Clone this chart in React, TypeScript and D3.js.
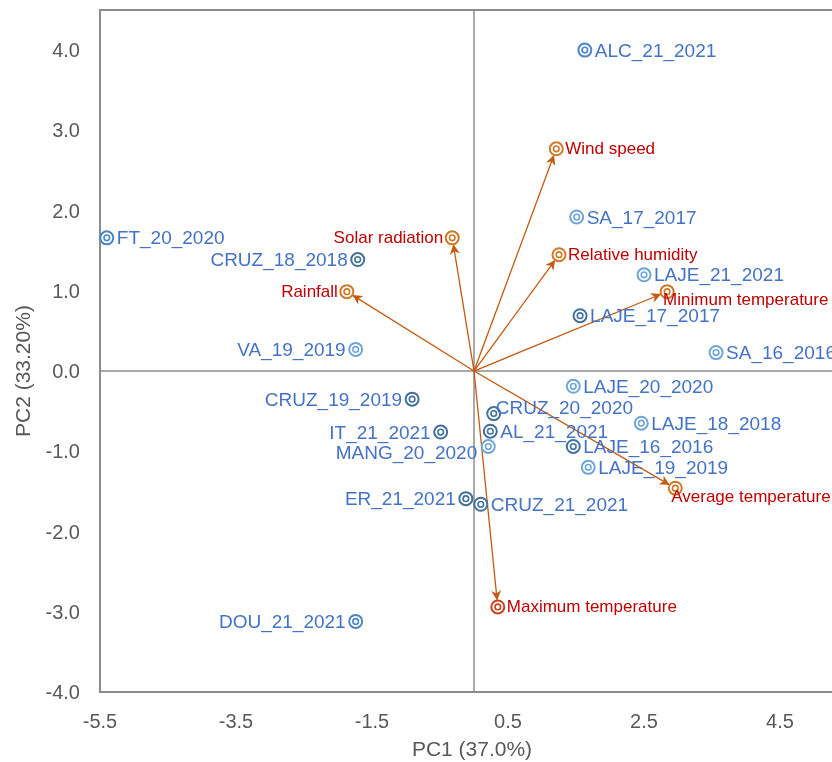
import * as d3 from "d3";

// PCA biplot: sample scores (blue) and environmental loadings (orange arrows)
const sampleNames = [
  "ALC_21_2021", "FT_20_2020", "CRUZ_18_2018", "VA_19_2019", "SA_17_2017",
  "LAJE_21_2021", "LAJE_17_2017", "SA_16_2016", "LAJE_20_2020", "CRUZ_20_2020",
  "LAJE_18_2018", "AL_21_2021", "LAJE_16_2016", "LAJE_19_2019", "CRUZ_19_2019",
  "IT_21_2021", "MANG_20_2020", "ER_21_2021", "CRUZ_21_2021", "DOU_21_2021",
];
const samplePC1 = [
  1.63, -5.40, -1.71, -1.74, 1.51, 2.50, 1.56, 3.56, 1.46, 0.29,
  2.46, 0.24, 1.46, 1.68, -0.91, -0.49, 0.21, -0.12, 0.10, -1.74,
];
const samplePC2 = [
  4.00, 1.66, 1.39, 0.27, 1.92, 1.20, 0.69, 0.23, -0.19, -0.53,
  -0.65, -0.75, -0.94, -1.20, -0.35, -0.76, -0.94, -1.59, -1.66, -3.12,
];

const variableNames = [
  "Wind speed", "Solar radiation", "Relative humidity", "Rainfall",
  "Minimum temperature", "Average temperature", "Maximum temperature",
];
const variablePC1 = [1.21, -0.32, 1.25, -1.87, 2.84, 2.96, 0.35];
const variablePC2 = [2.77, 1.66, 1.45, 0.99, 0.99, -1.46, -2.94];

const xTicks = [-5.5, -3.5, -1.5, 0.5, 2.5, 4.5];
const yTicks = [4, 3, 2, 1, 0, -1, -2, -3, -4];

// label placement and marker shade (styling, kept apart from the values)
type Place = "right" | "left" | "upRight" | "downLeft" | "downRight";
const samplePlace: Record<string, Place> = {
  CRUZ_18_2018: "left", VA_19_2019: "left", CRUZ_19_2019: "left",
  IT_21_2021: "left", ER_21_2021: "left", DOU_21_2021: "left",
  MANG_20_2020: "downLeft", CRUZ_20_2020: "upRight",
};
const variablePlace: Record<string, Place> = {
  "Solar radiation": "left", Rainfall: "left",
  "Minimum temperature": "downRight", "Average temperature": "downRight",
};
const dark = "#41719c", mid = "#4a86c5", light = "#6ea6d8";
const sampleShade: Record<string, string> = {
  ALC_21_2021: mid, FT_20_2020: mid, CRUZ_18_2018: dark, VA_19_2019: light,
  SA_17_2017: light, LAJE_21_2021: light, LAJE_17_2017: dark, SA_16_2016: light,
  LAJE_20_2020: light, CRUZ_20_2020: dark, LAJE_18_2018: light, AL_21_2021: dark,
  LAJE_16_2016: dark, LAJE_19_2019: light, CRUZ_19_2019: dark, IT_21_2021: dark,
  MANG_20_2020: light, ER_21_2021: dark, CRUZ_21_2021: dark, DOU_21_2021: mid,
};

const W = 832;
const H = 762;
const font = "'Liberation Sans', Arial, sans-serif";
const axisGray = "#8c8c8c";
const tickGray = "#595959";
const arrowColor = "#c55a11";

function labelAttrs(place: Place | undefined, px: number, py: number, gap: number) {
  switch (place) {
    case "left":
      return { x: px - gap, y: py, anchor: "end" as const };
    case "downLeft":
      return { x: px - 11, y: py + 6, anchor: "end" as const };
    case "upRight":
      return { x: px + 2, y: py - 6, anchor: "start" as const };
    case "downRight":
      return { x: px - 4, y: py + 8, anchor: "start" as const };
    default:
      return { x: px + gap, y: py, anchor: "start" as const };
  }
}

function Marker({ cx, cy, color }: { cx: number; cy: number; color: string }) {
  return (
    <g>
      <circle cx={cx} cy={cy} r={6.5} fill="white" stroke={color} strokeWidth={2} />
      <circle cx={cx} cy={cy} r={2.8} fill="none" stroke={color} strokeWidth={1.6} />
    </g>
  );
}

export default function App() {
  const x = d3.scaleLinear().domain([-5.5, 6.5]).range([100, 916]);
  const y = d3.scaleLinear().domain([-4, 4.5]).range([692, 10]);

  const ox = x(0);
  const oy = y(0);
  const fmt = (v: number) => v.toFixed(1);

  return (
    <svg width={W} height={H} style={{ position: "fixed", left: 0, top: 0, fontFamily: font }}>
      <defs>
        <marker id="arrowHead" viewBox="0 0 10 10" refX="9" refY="5" markerWidth="10" markerHeight="10" orient="auto" markerUnits="userSpaceOnUse">
          <path d="M0,0 L10,5 L0,10 L3,5 Z" fill={arrowColor} />
        </marker>
      </defs>

      {/* frame and zero lines */}
      <rect x={x(-5.5)} y={y(4.5)} width={x(6.5) - x(-5.5)} height={y(-4) - y(4.5)} fill="none" stroke={axisGray} strokeWidth={2} />
      <line x1={ox} x2={ox} y1={y(4.5)} y2={y(-4)} stroke={axisGray} strokeWidth={1.5} />
      <line x1={x(-5.5)} x2={x(6.5)} y1={oy} y2={oy} stroke={axisGray} strokeWidth={1.5} />

      {/* ticks */}
      {xTicks.map((t) => (
        <text key={t} x={x(t)} y={721} textAnchor="middle" dominantBaseline="central" fontSize={20} fill={tickGray}>
          {fmt(t)}
        </text>
      ))}
      {yTicks.map((t) => (
        <text key={t} x={80} y={y(t)} textAnchor="end" dominantBaseline="central" fontSize={20} fill={tickGray}>
          {fmt(t)}
        </text>
      ))}

      <text x={472} y={748} textAnchor="middle" dominantBaseline="central" fontSize={21} fill={tickGray}>
        PC1 (37.0%)
      </text>
      <text transform={`translate(22,${oy}) rotate(-90)`} textAnchor="middle" dominantBaseline="central" fontSize={21} fill={tickGray}>
        PC2 (33.20%)
      </text>

      {/* loading arrows */}
      {variableNames.map((name, i) => {
        const ex = x(variablePC1[i]);
        const ey = y(variablePC2[i]);
        const len = Math.hypot(ex - ox, ey - oy);
        const k = (len - 7.5) / len;
        return (
          <line key={name} x1={ox} y1={oy} x2={ox + (ex - ox) * k} y2={oy + (ey - oy) * k}
            stroke={arrowColor} strokeWidth={1.3} markerEnd="url(#arrowHead)" />
        );
      })}

      {/* samples */}
      {sampleNames.map((name, i) => {
        const px = x(samplePC1[i]);
        const py = y(samplePC2[i]);
        const l = labelAttrs(samplePlace[name], px, py, 10);
        return (
          <g key={name}>
            <Marker cx={px} cy={py} color={sampleShade[name]} />
            <text x={l.x} y={l.y} textAnchor={l.anchor} dominantBaseline="central" fontSize={19} fill="#4472c4">
              {name}
            </text>
          </g>
        );
      })}

      {/* variables */}
      {variableNames.map((name, i) => {
        const px = x(variablePC1[i]);
        const py = y(variablePC2[i]);
        const l = labelAttrs(variablePlace[name], px, py, 9);
        const c = name === "Maximum temperature" ? "#d0401e" : "#d07a28";
        return (
          <g key={name}>
            <Marker cx={px} cy={py} color={c} />
            <text x={l.x} y={l.y} textAnchor={l.anchor} dominantBaseline="central" fontSize={17} fill="#c00000">
              {name}
            </text>
          </g>
        );
      })}
    </svg>
  );
}
